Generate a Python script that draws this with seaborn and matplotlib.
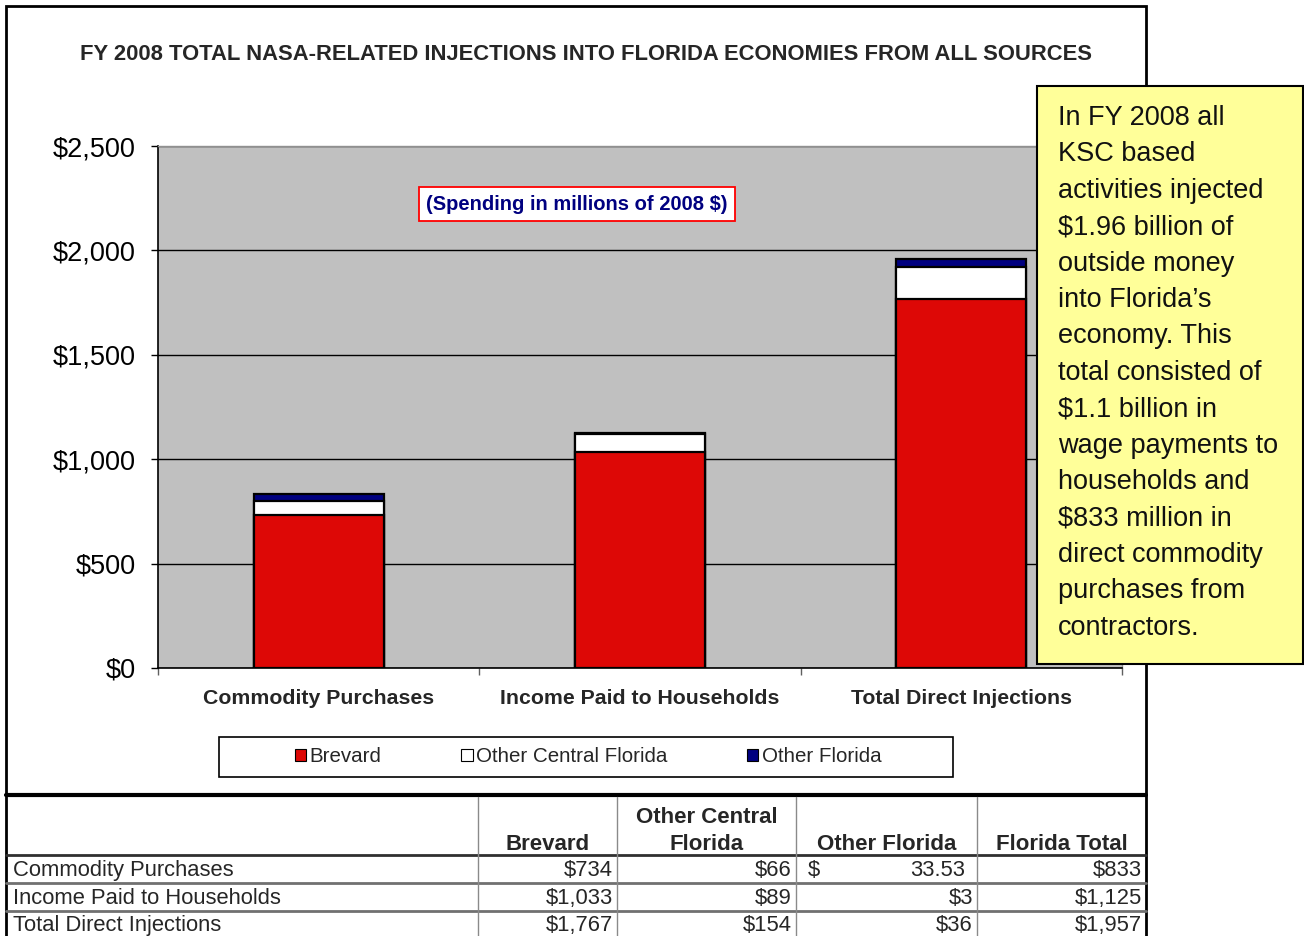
import matplotlib
matplotlib.use('agg')
import matplotlib.pyplot as plt
import seaborn as sns
import numpy as np
import pandas as pd
from matplotlib.patches import Rectangle, Patch
from matplotlib.ticker import StrMethodFormatter

# chart data (millions of 2008 $)
categories = ["Commodity Purchases", "Income Paid to Households", "Total Direct Injections"]
series = ["Brevard", "Other Central Florida", "Other Florida"]
brevard = [734, 1033, 1767]
other_central = [66, 89, 154]
other_florida = [33.53, 3, 36]
colors = ["#DD0806", "#FFFFFF", "#000080"]

# table below the chart
table_header = ["Brevard", "Other Central\nFlorida", "Other Florida", "Florida Total"]
table_labels = ["Commodity Purchases", "Income Paid to Households", "Total Direct Injections"]
table_values = [["$734", "$66", "$ 33.53", "$833"],
                ["$1,033", "$89", "$3", "$1,125"],
                ["$1,767", "$154", "$36", "$1,957"]]

title = "FY 2008 TOTAL NASA-RELATED INJECTIONS INTO FLORIDA ECONOMIES FROM ALL SOURCES"
note = "(Spending in millions of 2008 $)"
callout = ("In FY 2008 all\nKSC based\nactivities injected\n$1.96 billion of\n"
           "outside money\ninto Florida\u2019s\neconomy. This\ntotal consisted of\n"
           "$1.1 billion in\nwage payments to\nhouseholds and\n$833 million in\n"
           "direct commodity\npurchases from\ncontractors.")

sns.set_theme(style="white")
plt.rcParams['font.family'] = ['Liberation Sans', 'DejaVu Sans']

W, H = 1304, 936
fig = plt.figure(figsize=(W / 100, H / 100), dpi=100)
fig.patch.set_facecolor("white")

# main bar axes
ax = fig.add_axes([158 / W, (H - 668) / H, 964 / W, 522 / H])
ax.set_facecolor("#C0C0C0")

df = pd.DataFrame({"category": categories, "Brevard": brevard,
                   "Other Central Florida": other_central, "Other Florida": other_florida})
cum = df[series].cumsum(axis=1)
cum["category"] = categories
# stacked bars: tallest (cumulative) first, then overlay the lower parts
for s, c in reversed(list(zip(series, colors))):
    sns.barplot(data=cum, x="category", y=s, color=c, width=0.405, saturation=1,
                edgecolor="black", linewidth=1.6, ax=ax, zorder=3)

ax.set_ylim(0, 2500)
ax.set_xlim(-0.5, 2.5)
ax.set_yticks([0, 500, 1000, 1500, 2000, 2500])
ax.yaxis.set_major_formatter(StrMethodFormatter("${x:,.0f}"))
ax.set_axisbelow(True)
ax.yaxis.grid(True, color="black", linewidth=1)
ax.set_xlabel("")
ax.set_ylabel("")
ax.tick_params(axis="y", left=True, length=5, width=1, color="black", pad=11, labelsize=19.5)
ax.tick_params(axis="x", bottom=False, length=0, pad=15, labelsize=15.3)
ax.set_xticks([-0.5, 0.5, 1.5, 2.5], minor=True)
ax.tick_params(axis="x", which="minor", bottom=True, length=5, width=1, color="#606060")
for lab in ax.get_xticklabels():
    lab.set_fontweight("bold")
for lab in ax.get_yticklabels():
    lab.set_color("black")
for sp in ["left", "bottom"]:
    ax.spines[sp].set_color("black")
    ax.spines[sp].set_linewidth(1.2)
for sp in ["top", "right"]:
    ax.spines[sp].set_color("#909090")
    ax.spines[sp].set_linewidth(1)

# legend
handles = [Patch(facecolor=c, edgecolor="black", linewidth=0.8) for c in colors]
leg = fig.legend(handles, series, loc="center", bbox_to_anchor=(588 / W, 1 - 757 / H),
                 ncol=3, frameon=False, fontsize=14.8, handlelength=0.55, handleheight=0.55,
                 handletextpad=0.15, columnspacing=3.9)

# overlay axes in pixel coordinates for frame, table and text boxes
ov = fig.add_axes([0, 0, 1, 1], zorder=10)
ov.set_xlim(0, W)
ov.set_ylim(H, 0)
ov.axis("off")
ov.patch.set_alpha(0)

# outer chart frame
ov.plot([6, 6, 1146, 1146], [H, 6, 6, H], color="black", linewidth=2, solid_joinstyle="miter")

ov.text(586, 54, title, ha="center", va="center", fontsize=15.8, fontweight="bold")
ov.text(577, 204, note, ha="center", va="center", fontsize=14.5, fontweight="bold",
        color="#000080", bbox=dict(boxstyle="square,pad=0.35", fc="white", ec="#FF0000", lw=1.3))

# legend box
ov.add_patch(Rectangle((219, 737), 734, 40, fill=False, edgecolor="black", linewidth=1.2))

# table
col_edges = [6, 478, 617, 796, 977, 1146]
row_lines = [855, 883, 911]
row_baselines = [876, 904, 931]
ov.plot([6, 1146], [795, 795], color="black", linewidth=3)
ov.plot([6, 1146], [855, 855], color="#303030", linewidth=2)
for y in row_lines[1:]:
    ov.plot([6, 1146], [y, y], color="#707070", linewidth=2)
for x in col_edges[1:-1]:
    ov.plot([x, x], [797, H], color="#8a8a8a", linewidth=1)
for i, h in enumerate(table_header):
    cx = (col_edges[i + 1] + col_edges[i + 2]) / 2
    ov.text(cx, 850, h, ha="center", va="baseline", fontsize=16, fontweight="bold",
            linespacing=1.4)
for r, (lab, vals) in enumerate(zip(table_labels, table_values)):
    yb = row_baselines[r]
    ov.text(13, yb, lab, ha="left", va="baseline", fontsize=15.8)
    for j, v in enumerate(vals):
        right = col_edges[j + 2] - 4
        if v.startswith("$ "):
            ov.text(col_edges[j + 1] + 12, yb, "$", ha="left", va="baseline", fontsize=15.8)
            v = v[2:]
            right -= 8
        ov.text(right, yb, v, ha="right", va="baseline", fontsize=15.8)

# yellow callout
ov.add_patch(Rectangle((1037, 86), 266, 578, facecolor="#FFFF99", edgecolor="black",
                       linewidth=1.5, zorder=5))
ov.text(1058, 105, callout, ha="left", va="top", fontsize=19.5, linespacing=1.52, zorder=6,
        color="#111111")

fig.savefig("out.png", dpi=100)
plt.close()
